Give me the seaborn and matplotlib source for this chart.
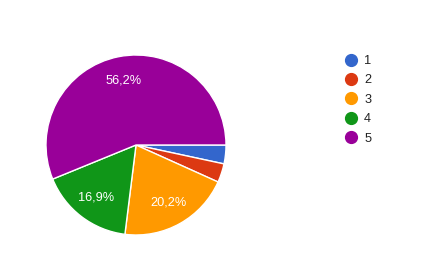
import matplotlib
matplotlib.use("Agg")
import matplotlib.pyplot as plt
from matplotlib.lines import Line2D
import seaborn as sns

categories = ["1", "2", "3", "4", "5"]
counts = [3, 3, 18, 15, 50]
colors = ["#3366cc", "#dc3912", "#ff9900", "#109618", "#990099"]

sns.set_theme(style="white")
plt.rcParams['font.family'] = ['Liberation Sans', 'DejaVu Sans']
palette = sns.color_palette(colors)

fig = plt.figure(figsize=(4.22, 2.77), dpi=100)
fig.patch.set_facecolor("white")
ax = fig.add_axes([46/422, (277-235)/277, 180/422, 180/277])

def fmt(p):
    if p < 5:
        return ""
    return f"{p:.1f}".replace(".", ",") + "%"

wedges, texts, autotexts = ax.pie(
    counts, colors=palette, startangle=0, counterclock=False,
    autopct=fmt, pctdistance=0.73,
    wedgeprops=dict(edgecolor="white", linewidth=1),
    textprops=dict(color="white", fontsize=9.2),
)
ax.set_aspect("equal")
ax.set_xlim(-1, 1)
ax.set_ylim(-1, 1)

handles = [Line2D([0], [0], marker="o", linestyle="", markersize=8.5,
                  markerfacecolor=c, markeredgecolor=c) for c in palette]
leg = fig.legend(handles, categories, loc="upper left",
                 bbox_to_anchor=(345/422, 1 - 55/277), frameon=False,
                 borderpad=0, handlelength=1.0, handletextpad=0.5,
                 labelspacing=0.58, fontsize=9.2, borderaxespad=0)
for t in leg.get_texts():
    t.set_color("#222222")

fig.savefig("out.png", dpi=100, facecolor="white")
